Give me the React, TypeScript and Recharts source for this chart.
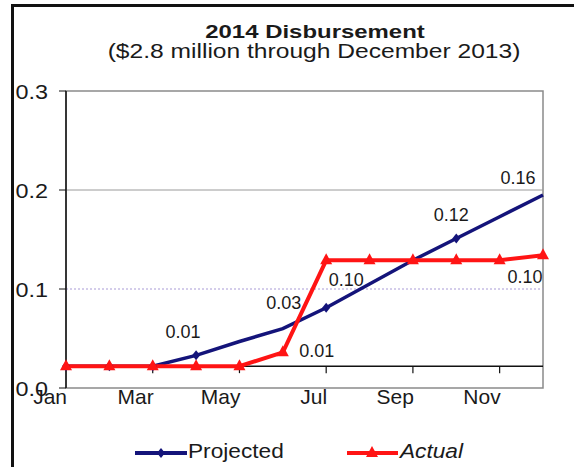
import React from 'react';
import {
  LineChart,
  Line,
  XAxis,
  YAxis,
  ReferenceLine,
  ReferenceArea,
  LabelList,
} from 'recharts';

const months = ['Jan', 'Feb', 'Mar', 'Apr', 'May', 'Jun', 'Jul', 'Aug', 'Sep', 'Oct', 'Nov', 'Dec'];
const projected = [0.022, 0.022, 0.022, 0.033, 0.047, 0.06, 0.081, 0.105, 0.129, 0.151, 0.173, 0.195];
const actual = [0.022, 0.022, 0.022, 0.022, 0.022, 0.036, 0.129, 0.129, 0.129, 0.129, 0.129, 0.134];
const projectedLabels = ['', '', '', '0.01', '', '0.03', '', '', '', '0.12', '', '0.16'];
const actualLabels = ['', '', '', '', '', '0.01', '0.10', '', '', '', '', '0.10'];
const yTicks = [0, 0.1, 0.2, 0.3];
const monthTicks = ['Jan', 'Mar', 'May', 'Jul', 'Sep', 'Nov'];
const axisCross = 0.022;

const NAVY = '#14147a';
const RED = '#ff1414';
const FONT = '"Liberation Sans", Arial, sans-serif';

const data = months.map((m, i) => ({
  month: m,
  projected: projected[i],
  actual: actual[i],
  pLabel: projectedLabels[i],
  aLabel: actualLabels[i],
}));

// where each data label sits relative to its point
const projOffsets: Record<number, [number, number]> = { 3: [-13, -24], 5: [1, -26], 9: [-5, -24], 11: [-25, -17] };
const actOffsets: Record<number, [number, number]> = { 5: [34, -2], 6: [20, 19], 11: [-18, 21] };
const projMarkers = [0, 1, 2, 3, 6, 9];

const StretchText = ({ x, y, sx = 1, anchor = 'start', size = 20, weight = 'normal', italic = false, children }: any) => (
  <text
    transform={`translate(${x},${y}) scale(${sx},1)`}
    textAnchor={anchor}
    fontFamily={FONT}
    fontSize={size}
    fontWeight={weight}
    fontStyle={italic ? 'italic' : 'normal'}
    fill="#1a1a1a"
  >
    {children}
  </text>
);

const Diamond = (props: any) => {
  const { cx, cy, index } = props;
  if (!projMarkers.includes(index)) return <g key={`pd-${index}`} />;
  return (
    <path key={`pd-${index}`} d={`M${cx},${cy - 5}L${cx + 4},${cy}L${cx},${cy + 5}L${cx - 4},${cy}Z`} fill={NAVY} />
  );
};

const Triangle = (props: any) => {
  const { cx, cy, index } = props;
  return <path key={`at-${index}`} d={`M${cx},${cy - 7}L${cx + 6},${cy + 4}L${cx - 6},${cy + 4}Z`} fill={RED} />;
};

const makeLabel = (offsets: Record<number, [number, number]>) => (props: any) => {
  const { x, y, value, index } = props;
  if (!value) return null;
  const [dx, dy] = offsets[index] || [0, -20];
  return (
    <text x={x + dx} y={y + dy + 6.5} textAnchor="middle" fontFamily={FONT} fontSize={18} fill="#1a1a1a">
      {value}
    </text>
  );
};

const XTick = (props: any) => {
  const { x, y, payload } = props;
  if (!monthTicks.includes(payload.value)) return <g />;
  return (
    <StretchText x={x + 1} y={y + 16} sx={1.05} anchor="end">
      {payload.value}
    </StretchText>
  );
};

const YTick = (props: any) => {
  const { x, y, payload } = props;
  return (
    <StretchText x={x} y={y + 8} sx={1.17} anchor="end">
      {payload.value.toFixed(1)}
    </StretchText>
  );
};

export default function App() {
  return (
    <div style={{ position: 'absolute', left: 0, top: 0, width: 574, height: 467, background: '#fff' }}>
      <div
        style={{
          position: 'absolute',
          left: 11,
          top: 4,
          width: 563,
          height: 463,
          borderTop: '3px solid #111',
          borderLeft: '3px solid #111',
        }}
      />
      <svg style={{ position: 'absolute', left: 0, top: 0 }} width={574} height={80}>
        <StretchText x={315} y={37.5} sx={1.26} anchor="middle" size={19} weight="bold">
          2014 Disbursement
        </StretchText>
        <StretchText x={314} y={57.5} sx={1.23} anchor="middle" size={20}>
          ($2.8 million through December 2013)
        </StretchText>
      </svg>
      <div style={{ position: 'absolute', left: 0, top: 0 }}>
        <LineChart width={574} height={467} data={data} margin={{ top: 91, right: 31, bottom: 49, left: 16 }}>
          <XAxis
            dataKey="month"
            interval={0}
            height={30}
            axisLine={false}
            tickLine={false}
            tickSize={0}
            tickMargin={0}
            tick={<XTick />}
          />
          <YAxis
            width={50}
            domain={[0, 0.3]}
            ticks={yTicks}
            axisLine={{ stroke: '#111', strokeWidth: 1.5 }}
            tickLine={{ stroke: '#111' }}
            tickSize={7}
            tickMargin={11}
            tick={<YTick />}
          />
          <ReferenceArea y1={0} y2={0.3} fill="none" stroke="#8a8a8a" strokeWidth={1.5} />
          <ReferenceLine y={0.2} stroke="#9a9a9a" strokeWidth={1} />
          <ReferenceLine y={0.1} stroke="#a99bd6" strokeWidth={1} strokeDasharray="2 2" />
          <ReferenceLine y={axisCross} stroke="#111" strokeWidth={1.5} />
          {monthTicks.map((m) => (
            <ReferenceLine
              key={m}
              segment={[
                { x: m, y: axisCross },
                { x: m, y: axisCross - 0.007 },
              ]}
              stroke="#111"
              strokeWidth={1.2}
            />
          ))}
          <Line
            type="linear"
            dataKey="projected"
            stroke={NAVY}
            strokeWidth={3.5}
            dot={Diamond}
            activeDot={false}
            isAnimationActive={false}
          >
            <LabelList dataKey="pLabel" content={makeLabel(projOffsets)} />
          </Line>
          <Line
            type="linear"
            dataKey="actual"
            stroke={RED}
            strokeWidth={4}
            dot={Triangle}
            activeDot={false}
            isAnimationActive={false}
          >
            <LabelList dataKey="aLabel" content={makeLabel(actOffsets)} />
          </Line>
        </LineChart>
      </div>
      <svg style={{ position: 'absolute', left: 0, top: 430 }} width={574} height={37}>
        <line x1={135} y1={23} x2={187} y2={23} stroke={NAVY} strokeWidth={4} />
        <path d="M161,18L165,23L161,28L157,23Z" fill={NAVY} />
        <StretchText x={188} y={28} sx={1.08} size={21}>
          Projected
        </StretchText>
        <line x1={347} y1={23} x2={398} y2={23} stroke={RED} strokeWidth={4} />
        <path d="M372,16L378,27L366,27Z" fill={RED} />
        <StretchText x={400} y={28} sx={1.08} size={21} italic>
          Actual
        </StretchText>
      </svg>
    </div>
  );
}
